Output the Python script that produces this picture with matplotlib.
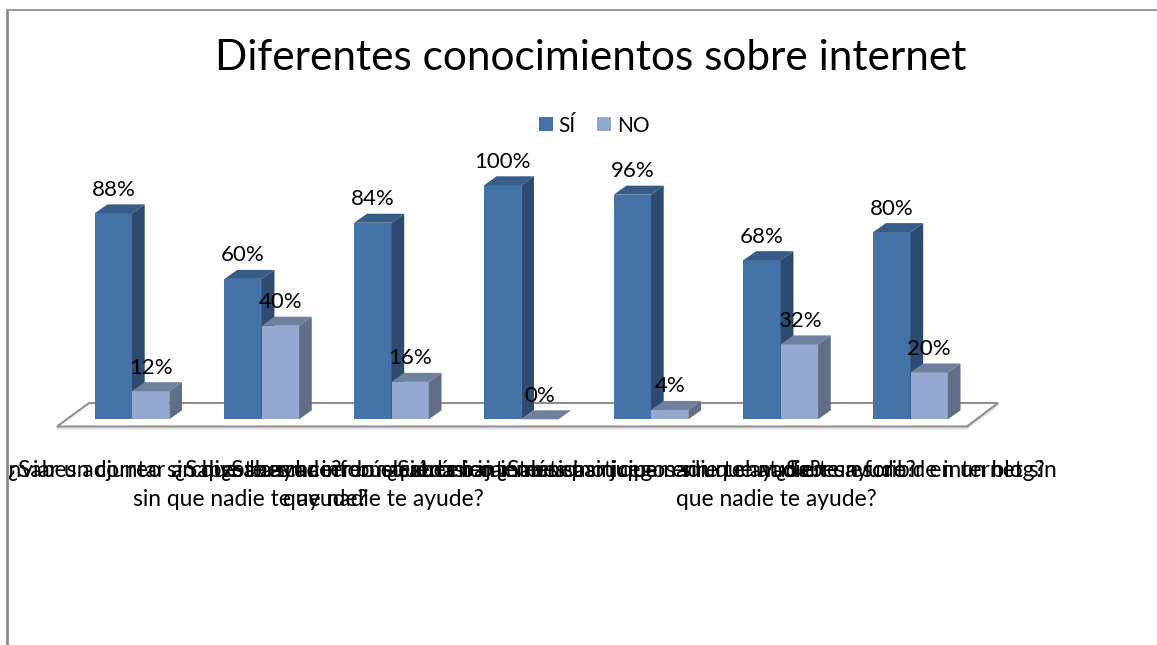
import matplotlib
matplotlib.use("Agg")
import matplotlib.pyplot as plt
from matplotlib.patches import Polygon, Rectangle

plt.rcParams['font.family'] = ['Lato', 'DejaVu Sans']

title = "Diferentes conocimientos sobre internet"
categories = [
    "¿Sabes enviar un correo sin que te ayude?",
    "¿Sabes adjuntar archivos a un correo electrónico\nsin que nadie te ayude?",
    "¿Sabes buscar información en internet sin\nque nadie te ayude?",
    "¿Sabes hacer búsquedas en internet sin que nadie te ayude?",
    "¿Sabes bajar música o juegos sin que nadie te ayude?",
    "¿Sabes participar en un chat o en un foro de internet sin\nque nadie te ayude?",
    "¿Sabes escribir en un blog?",
]
label_shift_px = [0, -11, -8, 0, 0, -4, 0]
si = [88, 60, 84, 100, 96, 68, 80]
no = [12, 40, 16, 0, 4, 32, 20]
series_names = ["SÍ", "NO"]

W, H = 1157, 645
X0, DX = 132.0, 129.75      # pixel of category 0, pixels per category
Y0, DY = 419.3, 2.34        # pixel of 0 %, pixels per percent
BW = 37.3 / DX              # bar width in category units
DEPTH_X, DEPTH_Y = 12.7 / DX, 9.0 / DY

fig = plt.figure(figsize=(W / 100, H / 100), dpi=100, facecolor='white')
ax = fig.add_axes([0, 0, 1, 1])
ax.set_xlim(-X0 / DX, (W - X0) / DX)
ax.set_ylim(-(H - Y0) / DY, Y0 / DY)
ax.axis('off')


def px(x):
    return (x - X0) / DX


def py(y):
    return (Y0 - y) / DY


# floor with its faint shadow
ax.add_patch(Polygon([(px(57), py(428.5)), (px(89), py(405)), (px(998), py(405)), (px(967), py(428.5))],
                     closed=True, facecolor='white', edgecolor='#e2e2e2', lw=1.4, zorder=1))
ax.add_patch(Polygon([(px(57), py(426.5)), (px(89), py(403)), (px(998), py(403)), (px(967), py(426.5))],
                     closed=True, facecolor='white', edgecolor='#8f8f8f', lw=1.5, zorder=1))


def bar3d(x, v, front, side, top, z):
    ax.bar(x, v, width=BW, align='edge', color=front, linewidth=0, zorder=z)
    ax.add_patch(Polygon([(x + BW, 0), (x + BW + DEPTH_X, DEPTH_Y), (x + BW + DEPTH_X, v + DEPTH_Y), (x + BW, v)],
                         closed=True, facecolor=side, edgecolor='none', zorder=z))
    ax.add_patch(Polygon([(x, v), (x + DEPTH_X, v + DEPTH_Y), (x + BW + DEPTH_X, v + DEPTH_Y), (x + BW, v)],
                         closed=True, facecolor=top, edgecolor='none', zorder=z))


FS_LABEL = 16
for i, (a, b) in enumerate(zip(si, no)):
    bar3d(i - BW, a, '#4572A7', '#2D4A70', '#375C88', 3)
    bar3d(i, b, '#95A8D0', '#606E87', '#6F7F9E', 4)
for i, (a, b) in enumerate(zip(si, no)):
    ax.annotate(f"{a}%", (i - BW / 2, a), xytext=(0, 23.5), textcoords='offset pixels',
                ha='center', va='center', fontsize=FS_LABEL, color='black', zorder=6)
    ax.annotate(f"{b}%", (i + BW / 2, b), xytext=(0, 23.5), textcoords='offset pixels',
                ha='center', va='center', fontsize=FS_LABEL, color='black', zorder=6)

# category labels, clipped at the chart frame
clip = Rectangle((8, 0), W - 8, H, transform=None)
for i, c in enumerate(categories):
    t = ax.text(i + label_shift_px[i] / DX, py(460), c, ha='center', va='top', fontsize=16.4, color='black',
                linespacing=1.45, zorder=5, transform=ax.transData)
    t.set_clip_path(clip)
    t.set_clip_on(True)

fig.text(591 / W, 1 - 58 / H, title, ha='center', va='center', fontsize=30.5, color='black')

# legend
handles = [Rectangle((0, 0), 1, 1, facecolor='#4572A7'), Rectangle((0, 0), 1, 1, facecolor='#95A8D0')]
fig.legend(handles, series_names, loc='center', bbox_to_anchor=(594 / W, 1 - 125.5 / H), ncols=2, frameon=False,
           fontsize=15, handlelength=0.67, handleheight=0.67, handletextpad=0.29, columnspacing=1.0,
           borderpad=0, borderaxespad=0)

# outer frame
fig.add_artist(plt.Line2D([7.3 / W, 7.3 / W], [0, 1 - 10 / H], color='#8c8c8c', lw=2.0, solid_capstyle='butt'))
fig.add_artist(plt.Line2D([6.3 / W, 1], [1 - 10 / H, 1 - 10 / H], color='#999999', lw=1.4, solid_capstyle='butt'))

fig.savefig('out.png', dpi=100)
